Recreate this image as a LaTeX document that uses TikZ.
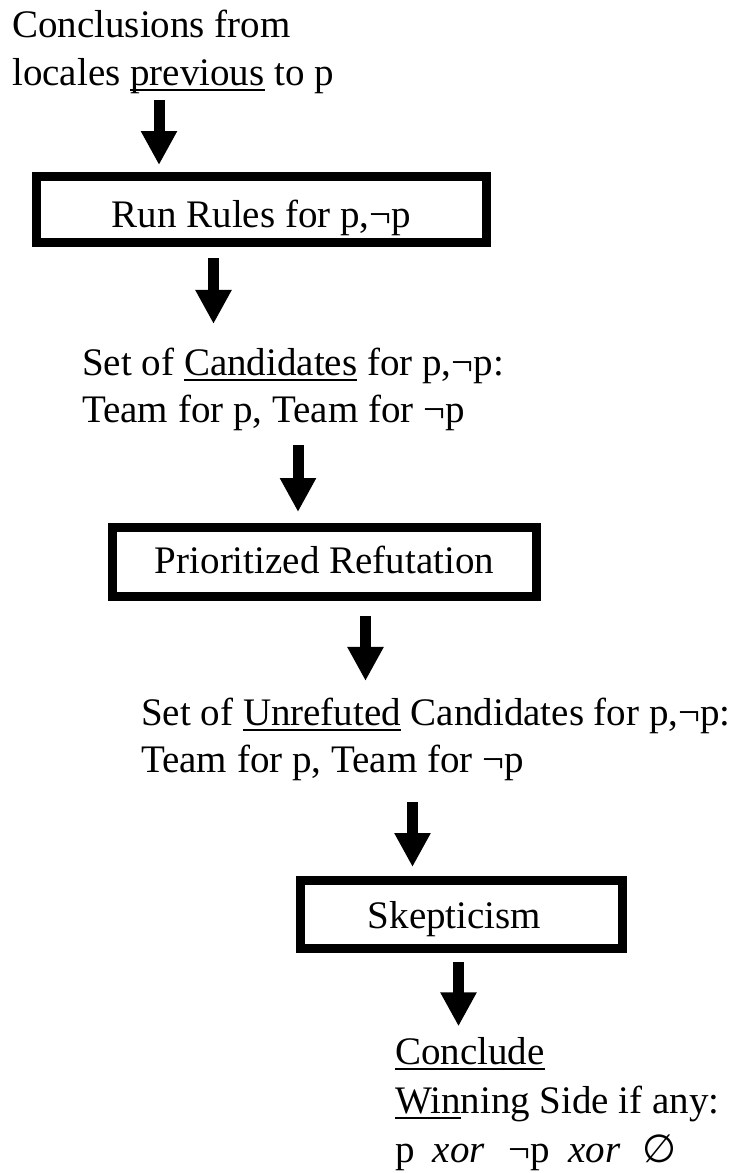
\documentclass[tikz,border=0pt]{standalone}
\usepackage{fontspec}
\setmainfont{Liberation Serif}
\newfontfamily\esfont{DejaVu Sans}
\usetikzlibrary{arrows.meta}
\newlength\myulw
\newcommand\myul[1]{\settowidth\myulw{#1}\rlap{\rule[-6pt]{\myulw}{2pt}}#1}
\begin{document}
\begin{tikzpicture}[x=1pt,y=-1pt,
  txt/.style={inner sep=0pt, font=\fontsize{39}{47}\selectfont, anchor=base west},
  box/.style={draw, line width=9pt, inner sep=0pt, font=\fontsize{39}{47}\selectfont, text depth=0pt},
  blk/.style={line width=11pt, -{Triangle[width=34pt,length=34pt]}}]
\useasboundingbox (0,0) rectangle (739,1173);
\node[txt] (t1) at (12,37) {\vtop{\baselineskip=48pt\hbox{Conclusions from}\hbox{locales \myul{previous} to p}}};
\node[box, minimum width=450pt, minimum height=66pt, text height=35pt] (b1) at (261.5,209.5) {Run Rules for p,¬p};
\node[txt] (t2) at (82,375) {\vtop{\baselineskip=47pt\hbox{Set of \myul{Candidates} for p,¬p:}\hbox{Team for p, Team for ¬p}}};
\node[box, minimum width=424pt, minimum height=69pt, text height=22pt] (b2) at (324.5,562) {Prioritized Refutation};
\node[txt] (t3) at (141,725) {\vtop{\baselineskip=47pt\hbox{Set of \myul{Unrefuted} Candidates for p,¬p:}\hbox{Team for p, Team for ¬p}}};
\node[box, minimum width=322pt, minimum height=68pt, text height=27pt] (b3) at (461.5,914.5) {Skepticism\kern14pt};
\node[txt] (t4) at (395,1064) {\vtop{\baselineskip=49pt\hbox{\myul{Conclude}}\hbox{\myul{Win}ning Side if any:}\hbox{p\hspace{18pt}\textit{xor}\hspace{24pt}¬p\hspace{18pt}\textit{xor}\hspace{22pt}{\esfont ∅}}}};
\draw[blk] ([xshift=147pt,yshift=-6.5pt]t1.south west) -- ([xshift=127pt,yshift=7pt]b1.north west);
\draw[blk] ([xshift=181.5pt,yshift=-11pt]b1.south west) -- ([xshift=131.5pt,yshift=23.4pt]t2.north west);
\draw[blk] ([xshift=216pt,yshift=-14.5pt]t2.south west) -- ([xshift=190pt,yshift=11pt]b2.north west);
\draw[blk] ([xshift=257.5pt,yshift=-15pt]b2.south west) -- ([xshift=224.5pt,yshift=16.4pt]t3.north west);
\draw[blk] ([xshift=271.5pt,yshift=-21.5pt]t3.south west) -- ([xshift=116.5pt,yshift=9pt]b3.north west);
\draw[blk] ([xshift=162.5pt,yshift=-9pt]b3.south west) -- ([xshift=63.5pt,yshift=10.4pt]t4.north west);
\end{tikzpicture}
\end{document}
